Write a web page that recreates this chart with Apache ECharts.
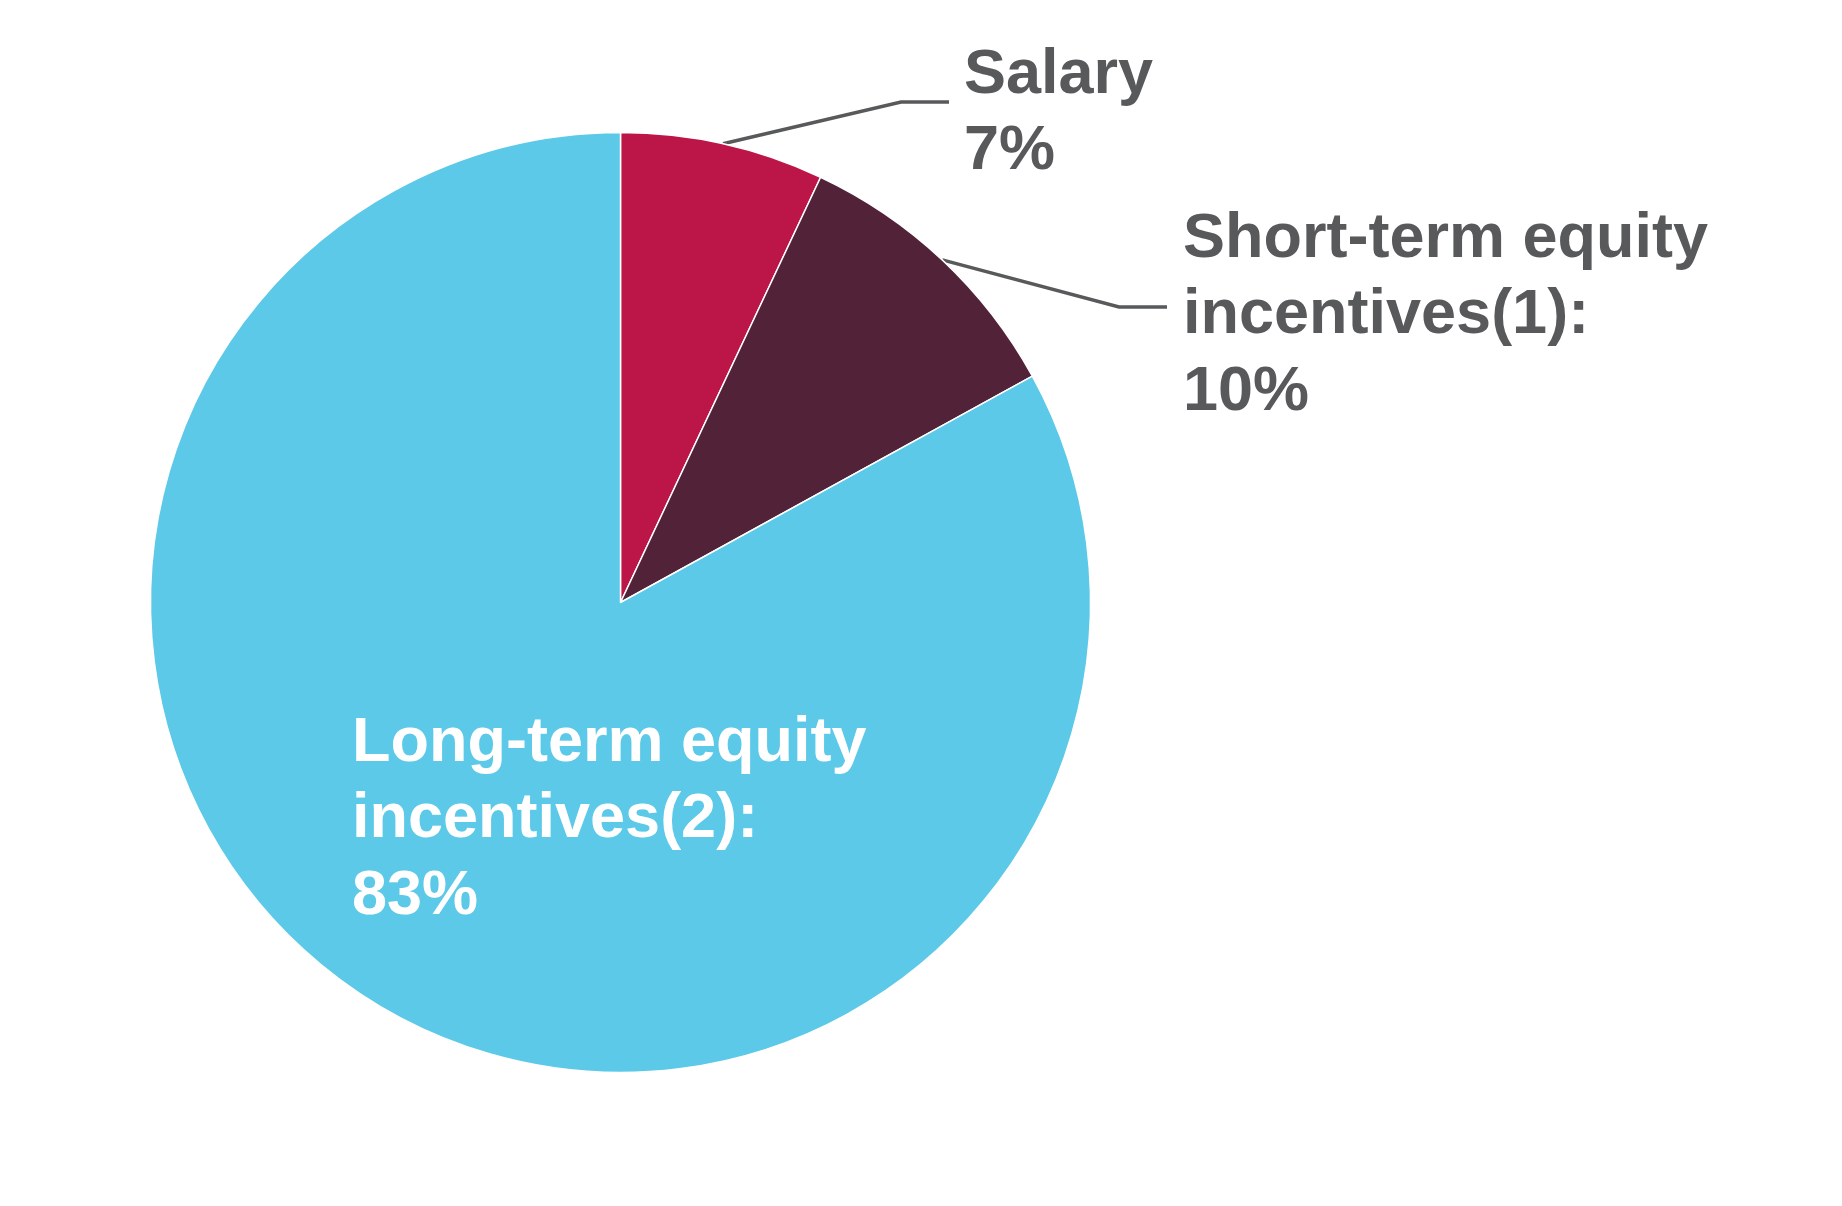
<!DOCTYPE html>
<html>
<head>
<meta charset="utf-8">
<style>
  html, body { margin: 0; padding: 0; background: #ffffff; }
  #chart { width: 1842px; height: 1206px; }
</style>
<script src="https://cdn.jsdelivr.net/npm/echarts@6/dist/echarts.min.js"></script>
</head>
<body>
<div id="chart"></div>
<script>
// ---- data ----
const categories = ['Salary', 'Short-term equity\nincentives(1):', 'Long-term equity\nincentives(2):'];
const values = [7, 10, 83];
const colors = ['#BC1547', '#512238', '#5BC9E7'];

// ---- label placement (style only) ----
const labelStyle = [
  { x: 964, y: 37, color: '#58595B', elbow: [901, 102], end: [949, 102] },
  { x: 1183, y: 201, color: '#58595B', elbow: [1119, 307], end: [1167, 307] },
  { x: 352, y: 705, color: '#FFFFFF', elbow: null, end: null }
];

const chart = echarts.init(document.getElementById('chart'), null, { renderer: 'canvas' });

const data = categories.map((name, i) => ({
  name: name,
  value: values[i],
  itemStyle: { color: colors[i] },
  label: { color: labelStyle[i].color },
  labelLine: { show: labelStyle[i].elbow !== null }
}));

chart.setOption({
  animation: false,
  backgroundColor: '#ffffff',
  series: [{
    type: 'pie',
    center: [620.5, 602.5],
    radius: [0, 470],
    startAngle: 90,
    clockwise: true,
    avoidLabelOverlap: false,
    data: data,
    itemStyle: { borderColor: '#ffffff', borderWidth: 1.5 },
    label: {
      show: true,
      position: 'outside',
      fontFamily: '"Liberation Sans", Arial, sans-serif',
      fontWeight: 'bold',
      fontSize: 63,
      lineHeight: 76.5,
      formatter: p => p.name + '\n' + p.value + '%'
    },
    labelLine: {
      show: true,
      length: 40,
      length2: 40,
      lineStyle: { color: '#58595B', width: 3.5 }
    },
    labelLayout: function (params) {
      const s = labelStyle[params.dataIndex];
      const out = { x: s.x, y: s.y, align: 'left', verticalAlign: 'top' };
      if (s.elbow && params.labelLinePoints) {
        const start = params.labelLinePoints[0];
        out.labelLinePoints = [[start[0], start[1]], s.elbow, s.end];
      }
      return out;
    }
  }]
});
</script>
</body>
</html>
